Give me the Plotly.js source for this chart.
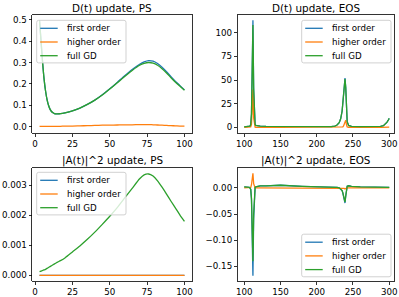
<!DOCTYPE html>
<html>
<head>
<meta charset="utf-8">
<script src="https://cdn.plot.ly/plotly-3.0.1.min.js"></script>
<style>html,body{margin:0;padding:0;background:#fff;}#chart{width:399px;height:297px;}</style>
</head>
<body>
<div id="chart"></div>
<script>
// ---------- DATA ----------
const seriesNames = ["first order", "higher order", "full GD"];
const titles = ["D(t) update, PS", "D(t) update, EOS", "|A(t)|^2 update, PS", "|A(t)|^2 update, EOS"];

// PS time steps
const tPS = [3,4,5,6,7,8,9,10,11,12,13,14,15,17,20,25,30,35,40,45,50,55,60,65,70,73,76,79,82,85,88,91,94,97,100];
const dFirstPS  = [0.495,0.400,0.305,0.225,0.168,0.128,0.100,0.082,0.071,0.065,0.061,0.060,0.060,0.061,0.065,0.074,0.087,0.104,0.124,0.149,0.177,0.207,0.238,0.267,0.292,0.303,0.309,0.306,0.295,0.278,0.257,0.234,0.212,0.192,0.172];
const dHigherPS = [0.002,0.002,0.002,0.002,0.002,0.002,0.002,0.002,0.002,0.002,0.002,0.002,0.002,0.002,0.003,0.003,0.004,0.005,0.006,0.007,0.007,0.008,0.009,0.009,0.010,0.010,0.010,0.009,0.008,0.007,0.006,0.005,0.004,0.003,0.003];
const dFullPS   = [0.495,0.400,0.305,0.225,0.168,0.128,0.100,0.082,0.071,0.065,0.061,0.060,0.060,0.061,0.065,0.074,0.087,0.104,0.124,0.148,0.176,0.205,0.235,0.263,0.287,0.296,0.300,0.297,0.287,0.271,0.251,0.229,0.208,0.189,0.170];

const tPSCoarse = [3,25,50,75,100];
const aFirstPS  = [0.0,0.0,0.0,0.0,0.0];
const aHigherPS = [0.0,0.0,0.0,0.0,0.0];
const aFullPS   = [0.00012,0.00014,0.00016,0.00018,0.00020,0.00023,0.00026,0.00029,0.00032,0.00035,0.00038,0.00041,0.00044,0.00049,0.00058,0.00078,0.00098,0.00120,0.00144,0.00170,0.00197,0.00226,0.00258,0.00290,0.00322,0.00335,0.00338,0.00331,0.00315,0.00294,0.00271,0.00247,0.00224,0.00201,0.00180];

// EOS time steps
const tEOS = [100,104,107,108,109,110,111,112,113,114,115,116,118,122,130,150,180,210,220,225,228,231,233,235,236,237,238,239,240,241,242,244,248,260,280,288,292,295,297,299,300];
const dFirstEOS  = [0.5,0.6,0.9,1.3,3,14,62,113,42,7,3,2,1.5,1.2,1.0,0.8,0.6,0.6,0.8,1.4,2.5,5,9,17,24,34,45,52,42,20,6,2,1,0.8,0.8,1,1.8,3.5,5.5,8,9.5];
const dHigherEOS = [0,0,0,0.1,0.5,3,18,40,10,1,0.2,0.1,0,0,0,0,0,0,0,0,0,0,0.1,0.2,0.5,1.5,3.5,6.5,7.5,3,0.5,0.1,0,0,0,0,0,0.1,0.1,0.2,0.3];
const dFullEOS   = [0.5,0.6,0.9,1.3,3,14,60,108,40,7,3,2,1.5,1.2,1.0,0.8,0.6,0.6,0.8,1.4,2.5,5,9,17,24,34,45,51,42,20,6,2,1,0.8,0.8,1,1.8,3.5,5.5,8,9.5];

const aFirstEOS  = [0.002,0.002,0.001,0,-0.003,-0.022,-0.1,-0.168,-0.06,-0.009,0.001,0.002,0.003,0.004,0.004,0.005,0.003,0.002,0.002,0.002,0.001,0,-0.002,-0.005,-0.010,-0.017,-0.025,-0.029,-0.016,-0.002,0.003,0.004,0.003,0.002,0.002,0.002,0.002,0.001,0.001,0.001,0.001];
const aHigherEOS = [0,0,0,0,0.001,0.006,0.018,0.028,0.008,0.001,0,0,0,0,0,0,0,0,0,0,0,0,0,0,0,-0.001,-0.001,-0.002,-0.001,0,0,0,0,0,0,0,0,0,0,0,0];
const aFullEOS   = [0.002,0.002,0.001,0,-0.003,-0.02,-0.085,-0.14,-0.05,-0.008,0.001,0.002,0.003,0.004,0.004,0.005,0.003,0.002,0.002,0.002,0.001,0,-0.002,-0.005,-0.009,-0.016,-0.024,-0.027,-0.015,-0.002,0.003,0.004,0.003,0.002,0.002,0.002,0.002,0.001,0.001,0.001,0.001];

// tick labels
const xTicksPS = [0,25,50,75,100];
const xTicksEOS = [100,150,200,250,300];
const yTicksDPS = [0.0,0.1,0.2,0.3,0.4,0.5];
const yTextDPS = ["0.0","0.1","0.2","0.3","0.4","0.5"];
const yTicksDEOS = [0,25,50,75,100];
const yTicksAPS = [0,0.001,0.002,0.003];
const yTextAPS = ["0.000","0.001","0.002","0.003"];
const yTicksAEOS = [0,-0.05,-0.10,-0.15];
const yTextAEOS = ["0.00","\u22120.05","\u22120.10","\u22120.15"];

// ---------- STYLE / LAYOUT ----------
const W = 399, H = 297;
const colors = ["#1f77b4", "#ff7f0e", "#2ca02c"];
const FONT = "DejaVu Sans, sans-serif";
const px = p => p / W;
const py = p => 1 - p / H;

const xL = [px(32.3), px(191.7)], xR = [px(237.7), px(394.3)];
const yT = [py(132.7), py(15)], yB = [py(281), py(168)];

function tr(x, y, i, ax, shape) {
  return {x: x, y: y, type: "scatter", mode: "lines", name: seriesNames[i],
    xaxis: ax[0], yaxis: ax[1], showlegend: false,
    line: {color: colors[i], width: 1.3, shape: shape || "linear", smoothing: 0.6},
    hoverinfo: "skip"};
}
const data = [
  tr(tPS, dFirstPS, 0, ["x","y"], "spline"), tr(tPS, dHigherPS, 1, ["x","y"], "spline"), tr(tPS, dFullPS, 2, ["x","y"], "spline"),
  tr(tEOS, dFirstEOS, 0, ["x2","y2"]), tr(tEOS, dHigherEOS, 1, ["x2","y2"]), tr(tEOS, dFullEOS, 2, ["x2","y2"]),
  tr(tPSCoarse, aFirstPS, 0, ["x3","y3"]), tr(tPSCoarse, aHigherPS, 1, ["x3","y3"]), tr(tPS, aFullPS, 2, ["x3","y3"], "spline"),
  tr(tEOS, aFirstEOS, 0, ["x4","y4"]), tr(tEOS, aHigherEOS, 1, ["x4","y4"]), tr(tEOS, aFullEOS, 2, ["x4","y4"])
];

function axis(domain, anchor, range, tickvals, ticktext) {
  const a = {domain: domain, anchor: anchor, range: range, tickmode: "array", tickvals: tickvals,
    showgrid: false, zeroline: false, showline: true, mirror: true, linecolor: "#000", linewidth: 0.8,
    ticks: "outside", ticklen: 3, tickwidth: 0.8, tickcolor: "#000",
    tickfont: {family: FONT, size: 8.7, color: "#000"}, fixedrange: true};
  if (ticktext) a.ticktext = ticktext;
  return a;
}

const annotations = [];
const shapes = [];
const titlePos = [[(32.3+191.7)/2, 7.5], [(237.7+394.3)/2, 7.5], [(32.3+191.7)/2, 160.5], [(237.7+394.3)/2, 160.5]];
titles.forEach((t, i) => annotations.push({text: t, xref: "paper", yref: "paper",
  x: px(titlePos[i][0]), y: py(titlePos[i][1]), xanchor: "center", yanchor: "middle", showarrow: false,
  font: {family: FONT, size: 10.4, color: "#000"}}));

// legends: [left, top] of box in pixels
const legendBoxes = [[36.7, 20.3], [301.7, 20.3], [36.7, 172.3], [301.7, 234.2]];
const BW = 89.3, BH = 42.6, R = 2;
legendBoxes.forEach(([l, t]) => {
  const r = l + BW, b = t + BH;
  const path = `M${px(l+R)},${py(t)} L${px(r-R)},${py(t)} Q${px(r)},${py(t)} ${px(r)},${py(t+R)} ` +
    `L${px(r)},${py(b-R)} Q${px(r)},${py(b)} ${px(r-R)},${py(b)} L${px(l+R)},${py(b)} ` +
    `Q${px(l)},${py(b)} ${px(l)},${py(b-R)} L${px(l)},${py(t+R)} Q${px(l)},${py(t)} ${px(l+R)},${py(t)} Z`;
  shapes.push({type: "path", xref: "paper", yref: "paper", path: path,
    fillcolor: "rgba(255,255,255,0.8)", line: {color: "#cccccc", width: 0.9}, layer: "above"});
  seriesNames.forEach((n, i) => {
    const yy = t + 8 + i * 13.7;
    shapes.push({type: "line", xref: "paper", yref: "paper", x0: px(l+3.5), x1: px(l+21), y0: py(yy), y1: py(yy),
      line: {color: colors[i], width: 1.3}, layer: "above"});
    annotations.push({text: n, xref: "paper", yref: "paper", x: px(l+28), y: py(yy),
      xanchor: "left", yanchor: "middle", showarrow: false, font: {family: FONT, size: 8.7, color: "#000"}});
  });
});

const layout = {
  width: W, height: H, margin: {l: 0, r: 0, t: 0, b: 0},
  paper_bgcolor: "#fff", plot_bgcolor: "#fff", showlegend: false,
  font: {family: FONT, size: 8.7, color: "#000"},
  xaxis:  axis(xL, "y",  [-1.85, 104.85], xTicksPS),
  yaxis:  axis(yT, "x",  [-0.028, 0.522], yTicksDPS, yTextDPS),
  xaxis2: axis(xR, "y2", [91, 307], xTicksEOS),
  yaxis2: axis(yT, "x2", [-5.65, 118.65], yTicksDEOS),
  xaxis3: axis(xL, "y3", [-1.85, 104.85], xTicksPS),
  yaxis3: axis(yB, "x3", [-0.00019, 0.00358], yTicksAPS, yTextAPS),
  xaxis4: axis(xR, "y4", [91, 307], xTicksEOS),
  yaxis4: axis(yB, "x4", [-0.178, 0.038], yTicksAEOS, yTextAEOS),
  annotations: annotations, shapes: shapes
};

Plotly.newPlot("chart", data, layout, {staticPlot: true, displayModeBar: false});
</script>
</body>
</html>
